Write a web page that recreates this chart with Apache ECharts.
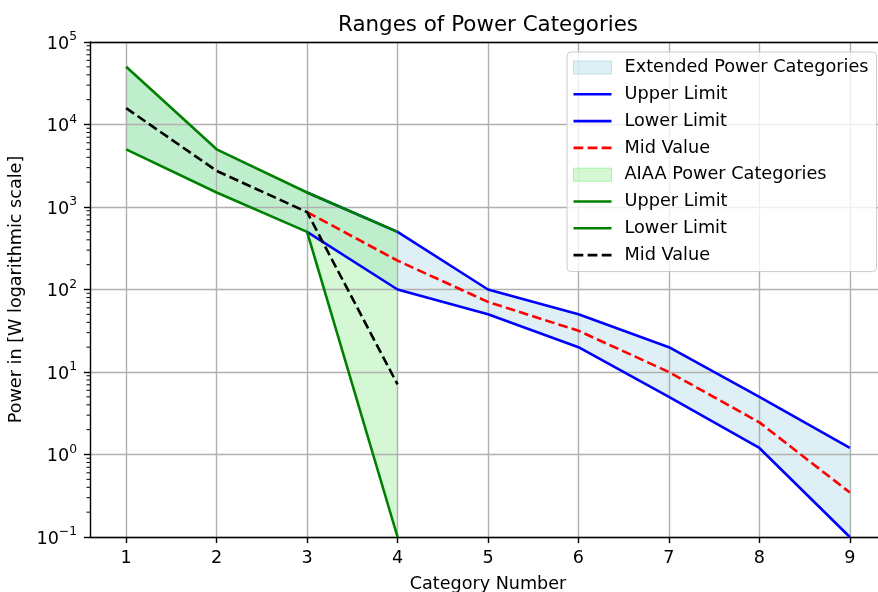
<!DOCTYPE html>
<html>
<head>
<meta charset="utf-8">
<script src="https://cdn.jsdelivr.net/npm/echarts@6/dist/echarts.min.js"></script>
<style>html,body{margin:0;padding:0;background:#fff}#c{width:878px;height:592px}</style>
</head>
<body>
<div id="c"></div>
<script>
// ---- data ----
const xTicks = [1, 2, 3, 4, 5, 6, 7, 8, 9];
// Extended band (fill spans all categories)
const extBandCategories = [1, 2, 3, 4, 5, 6, 7, 8, 9];
const extBandUpper = [50000, 5000, 1500, 500, 100, 50, 20, 5, 1.2];
const extBandLower = [5000, 1500, 500, 100, 50, 20, 5, 1.2, 0.1];
// Extended lines
const extCategories = [3, 4, 5, 6, 7, 8, 9];
const extUpper = [1500, 500, 100, 50, 20, 5, 1.2];
const extLower = [500, 100, 50, 20, 5, 1.2, 0.1];
const extMid = [866, 224, 70.7, 31.6, 10, 2.45, 0.346];
// AIAA
const aiaaCategories = [1, 2, 3, 4];
const aiaaUpper = [50000, 5000, 1500, 500];
const aiaaLower = [5000, 1500, 500, 0.1];
const aiaaMid = [15800, 2740, 866, 7.07];
// axis
const yMin = 0.1, yMax = 100000;
const xMin = 0.6, xMax = 9.4;

const FONT = 'DejaVu Sans';
const SUFFIX = ' (AIAA)';
const ICON_SOLID = 'path://M0,0H38V2.6H0Z';
const ICON_DASH = 'path://M0,0H9.6V2.6H0Z M13.8,0H23.4V2.6H13.8Z M27.6,0H37.2V2.6H27.6Z';

function pairs(xs, ys) { return xs.map((x, i) => [x, ys[i]]); }

function bandSeries(name, xs, up, lo, fill, edge) {
  return {
    name: name,
    type: 'custom',
    z: 0,
    silent: true,
    itemStyle: { color: fill },
    data: xs.map((x, i) => [x, up[i], lo[i]]),
    encode: { x: 0, y: [1, 2] },
    renderItem: function (params, api) {
      if (params.dataIndex !== 0) return null;
      const pts = [];
      for (let i = 0; i < xs.length; i++) pts.push(api.coord([xs[i], up[i]]));
      for (let i = xs.length - 1; i >= 0; i--) pts.push(api.coord([xs[i], lo[i]]));
      return { type: 'polygon', shape: { points: pts }, style: { fill: fill, stroke: edge, lineWidth: 1 } };
    }
  };
}

function lineSeries(name, xs, ys, color, dashed) {
  return {
    name: name,
    type: 'line',
    z: 3,
    symbol: 'none',
    showSymbol: false,
    silent: true,
    data: pairs(xs, ys),
    itemStyle: { color: color },
    lineStyle: { color: color, width: 2.6, type: dashed ? [9.6, 4.2] : 'solid' },
    emphasis: { disabled: true }
  };
}

// minor tick positions on log axis (2..9 per decade)
const minorVals = [];
for (let e = -1; e < 5; e++) for (let m = 2; m <= 9; m++) minorVals.push(m * Math.pow(10, e));

function yLabel(v) {
  const e = Math.round(Math.log10(v));
  const s = String(e).replace('-', '\u2212');
  return '{b|10}{s|' + s + '}';
}

const chart = echarts.init(document.getElementById('c'), null, { renderer: 'canvas' });
chart.setOption({
  animation: false,
  backgroundColor: '#ffffff',
  textStyle: { fontFamily: FONT },
  title: {
    text: 'Ranges of Power Categories',
    left: 483, top: 10, textAlign: 'center',
    textStyle: { fontFamily: FONT, fontSize: 21.4, fontWeight: 'normal', color: '#000' }
  },
  grid: { left: 90, top: 42, right: -8, bottom: 55, containLabel: false, outerBoundsMode: 'none' },
  xAxis: [{
    type: 'value', min: xMin, max: xMax, z: 1,
    name: 'Category Number', nameLocation: 'middle', nameGap: 38,
    nameTextStyle: { fontFamily: FONT, fontSize: 17.6, color: '#000' },
    axisLine: { show: true, onZero: false, lineStyle: { color: '#000', width: 1.4 } },
    axisTick: { show: true, length: 6, lineStyle: { color: '#000', width: 1.4 }, customValues: xTicks },
    axisLabel: { fontFamily: FONT, fontSize: 17.6, color: '#000', margin: 12, customValues: xTicks, formatter: v => String(v) },
    splitLine: { show: true, lineStyle: { color: '#b0b0b0', width: 1.4 } }
  }, {
    type: 'value', min: xMin, max: xMax, position: 'top', z: 1,
    axisLine: { show: true, onZero: false, lineStyle: { color: '#000', width: 1.4 } },
    axisTick: { show: false }, axisLabel: { show: false }, splitLine: { show: false }
  }],
  yAxis: {
    type: 'log', logBase: 10, min: yMin, max: yMax, interval: 1, z: 1,
    name: 'Power in [W logarithmic scale]', nameLocation: 'middle', nameGap: 52,
    nameTextStyle: { fontFamily: FONT, fontSize: 17.6, color: '#000' },
    axisLine: { show: true, onZero: false, lineStyle: { color: '#000', width: 1.4 } },
    axisTick: { show: true, length: 6, lineStyle: { color: '#000', width: 1.4 } },
    axisLabel: {
      margin: 13, color: '#000', formatter: yLabel,
      rich: {
        b: { fontFamily: FONT, fontSize: 17.6, color: '#000', lineHeight: 22, verticalAlign: 'bottom' },
        s: { fontFamily: FONT, fontSize: 12.3, color: '#000', lineHeight: 22, verticalAlign: 'top' }
      }
    },
    splitLine: { show: true, lineStyle: { color: '#b0b0b0', width: 1.4 } },
    minorTick: { show: false }
  },
  legend: {
    orient: 'vertical',
    left: 567, top: 52,
    padding: [6, 8, 7, 6],
    itemWidth: 38, itemHeight: 13, itemGap: 7.8,
    backgroundColor: 'rgba(255,255,255,0.8)',
    borderColor: '#cccccc', borderWidth: 1, borderRadius: 4,
    selectedMode: false,
    formatter: n => n.replace(SUFFIX, ''),
    textStyle: { fontFamily: FONT, fontSize: 17.7, color: '#000', lineHeight: 19, padding: [0, 0, 0, 8] },
    data: [
      { name: 'Extended Power Categories', icon: 'rect', itemStyle: { color: 'rgba(173,216,230,0.4)', borderColor: 'rgba(173,216,230,0.7)', borderWidth: 1 } },
      { name: 'Upper Limit', icon: ICON_SOLID, itemStyle: { color: '#0000ff', borderWidth: 0 } },
      { name: 'Lower Limit', icon: ICON_SOLID, itemStyle: { color: '#0000ff', borderWidth: 0 } },
      { name: 'Mid Value', icon: ICON_DASH, itemStyle: { color: '#ff0000', borderWidth: 0 } },
      { name: 'AIAA Power Categories', icon: 'rect', itemStyle: { color: 'rgba(144,238,144,0.4)', borderColor: 'rgba(144,238,144,0.7)', borderWidth: 1 } },
      { name: 'Upper Limit' + SUFFIX, icon: ICON_SOLID, itemStyle: { color: '#008000', borderWidth: 0 } },
      { name: 'Lower Limit' + SUFFIX, icon: ICON_SOLID, itemStyle: { color: '#008000', borderWidth: 0 } },
      { name: 'Mid Value' + SUFFIX, icon: ICON_DASH, itemStyle: { color: '#000000', borderWidth: 0 } }
    ]
  },
  series: [
    bandSeries('Extended Power Categories', extBandCategories, extBandUpper, extBandLower, 'rgba(173,216,230,0.4)', 'rgba(173,216,230,0.4)'),
    lineSeries('Upper Limit', extCategories, extUpper, '#0000ff', false),
    lineSeries('Lower Limit', extCategories, extLower, '#0000ff', false),
    lineSeries('Mid Value', extCategories, extMid, '#ff0000', true),
    bandSeries('AIAA Power Categories', aiaaCategories, aiaaUpper, aiaaLower, 'rgba(144,238,144,0.4)', 'rgba(144,238,144,0.4)'),
    lineSeries('Upper Limit' + SUFFIX, aiaaCategories, aiaaUpper, '#008000', false),
    lineSeries('Lower Limit' + SUFFIX, aiaaCategories, aiaaLower, '#008000', false),
    lineSeries('Mid Value' + SUFFIX, aiaaCategories, aiaaMid, '#000000', true),
    {
      name: 'minorTicks', type: 'custom', silent: true, clip: false, z: 5,
      data: minorVals.map(v => [xMin, v]),
      encode: { x: 0, y: 1 },
      renderItem: function (params, api) {
        const p = api.coord([xMin, api.value(1)]);
        return { type: 'line', shape: { x1: p[0] - 3.5, y1: p[1], x2: p[0], y2: p[1] }, style: { stroke: '#000', lineWidth: 1 } };
      }
    }
  ]
});
</script>
</body>
</html>
